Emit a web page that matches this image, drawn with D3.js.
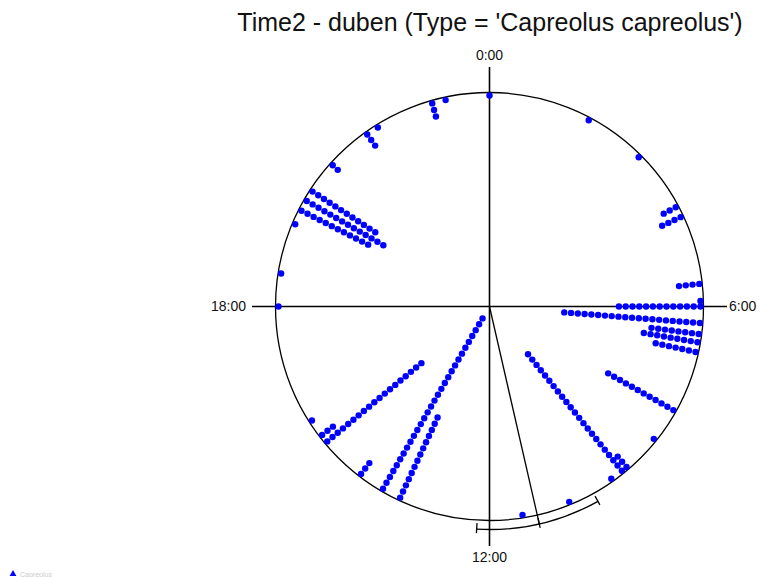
<!DOCTYPE html>
<html>
<head>
<meta charset="utf-8">
<script src="https://cdn.jsdelivr.net/npm/d3@7"></script>
<style>
  body { margin: 0; background: #fff; }
  svg text { font-family: "Liberation Sans", Arial, sans-serif; }
</style>
</head>
<body>
<svg id="chart" width="765" height="577"></svg>
<script>
// stacked circular dot plot: one radial stack per time bin (hours)
const binTimes  = [0.0, 1.87, 3.0, 4.13, 4.33, 5.59, 5.9, 6.0, 6.3, 6.5, 6.65, 6.83, 7.96, 8.59,
                   9.3, 9.41, 9.65, 10.52, 11.4, 13.67, 14.02, 14.5, 15.35, 15.5, 15.82,
                   18.0, 18.6, 19.53, 19.8, 20.0, 20.2, 20.8, 21.64, 21.87, 22.95, 23.2];
const binCounts = [1, 1, 1, 3, 4, 4, 1, 13, 21, 8, 9, 7, 12, 1,
                   3, 23, 1, 1, 1, 14, 30, 3, 19, 3, 1,
                   1, 1, 1, 12, 14, 12, 2, 3, 1, 3, 1];

const axisLabels = ["0:00", "6:00", "12:00", "18:00"];

const meanTime = 11.14;   // mean direction
const ciTimes = [10.06, 12.22]; // 95% confidence interval

const titleText = "Time2 - duben (Type = 'Capreolus capreolus')";

const svg = d3.select("#chart");
const cx = 489.5, cy = 306.5, R = 214;

const angle = d3.scaleLinear().domain([0, 24]).range([0, 2 * Math.PI]);
const stackR = d3.scaleLinear().domain([0, 1]).range([R - 3, R - 3 - 6.8]);

function px(h, r) { return cx + r * Math.sin(angle(h)); }
function py(h, r) { return cy - r * Math.cos(angle(h)); }

// title
svg.append("text")
  .attr("x", 490).attr("y", 31)
  .attr("text-anchor", "middle")
  .attr("font-size", "25px")
  .attr("fill", "#111")
  .text(titleText);

// cross axes
svg.append("line").attr("x1", 252).attr("y1", cy).attr("x2", 727).attr("y2", cy)
  .attr("stroke", "#000").attr("stroke-width", 1.6);
svg.append("line").attr("x1", cx).attr("y1", 67).attr("x2", cx).attr("y2", 546)
  .attr("stroke", "#000").attr("stroke-width", 1.6);

// outer circle
svg.append("circle").attr("cx", cx).attr("cy", cy).attr("r", R)
  .attr("fill", "none").attr("stroke", "#000").attr("stroke-width", 1.3);

// axis labels
const labelPos = [
  { x: cx, y: 60, anchor: "middle" },
  { x: 729, y: 311, anchor: "start" },
  { x: cx, y: 562, anchor: "middle" },
  { x: 246, y: 311, anchor: "end" }
];
axisLabels.forEach((t, i) => {
  svg.append("text")
    .attr("x", labelPos[i].x).attr("y", labelPos[i].y)
    .attr("text-anchor", labelPos[i].anchor)
    .attr("font-size", "14px")
    .attr("fill", "#111")
    .text(t);
});

// dots
const dots = [];
binTimes.forEach((h, i) => {
  for (let k = 0; k < binCounts[i]; k++) dots.push({ h, k });
});
svg.append("g").selectAll("circle")
  .data(dots)
  .join("circle")
  .attr("cx", d => px(d.h, stackR(d.k)))
  .attr("cy", d => py(d.h, stackR(d.k)))
  .attr("r", 3.2)
  .attr("fill", "#0000ff");

// mean vector
svg.append("line")
  .attr("x1", cx).attr("y1", cy)
  .attr("x2", px(meanTime, 223)).attr("y2", py(meanTime, 223))
  .attr("stroke", "#000").attr("stroke-width", 1.3);

// confidence arc with end caps
const ciArc = d3.arc().innerRadius(223).outerRadius(223)
  .startAngle(angle(ciTimes[0])).endAngle(angle(ciTimes[1]));
svg.append("path")
  .attr("transform", `translate(${cx},${cy})`)
  .attr("d", ciArc())
  .attr("fill", "none").attr("stroke", "#000").attr("stroke-width", 1.3);
ciTimes.concat([meanTime]).forEach(h => {
  svg.append("line")
    .attr("x1", px(h, 217)).attr("y1", py(h, 217))
    .attr("x2", px(h, 227)).attr("y2", py(h, 227))
    .attr("stroke", "#000").attr("stroke-width", 1.3);
});

// faint legend stub in the corner
svg.append("path")
  .attr("d", d3.symbol().type(d3.symbolTriangle).size(20)())
  .attr("transform", "translate(13,574)")
  .attr("fill", "#0000ff");
svg.append("text")
  .attr("x", 20).attr("y", 577)
  .attr("font-size", "7px")
  .attr("fill", "#ccc")
  .text("Capreolus");
</script>
</body>
</html>
